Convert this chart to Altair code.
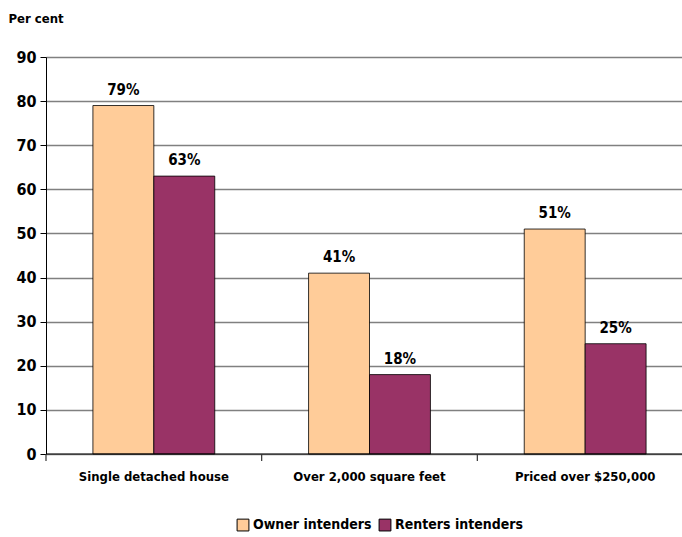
import altair as alt
import pandas as pd

categories = ["Single detached house", "Over 2,000 square feet", "Priced over $250,000"]
series = ["Owner intenders", "Renters intenders"]
owner = [79, 41, 51]
renter = [63, 18, 25]
y_ticks = [0, 10, 20, 30, 40, 50, 60, 70, 80, 90]
colors = ["#FFCC99", "#993366"]

rows = []
for c, o, r in zip(categories, owner, renter):
    rows.append({"cat": c, "series": series[0], "value": o, "label": f"{o}%"})
    rows.append({"cat": c, "series": series[1], "value": r, "label": f"{r}%"})
df = pd.DataFrame(rows)
cat_df = pd.DataFrame({"cat": categories, "y0": [0, 0, 0], "y1": [-1.6, -1.6, -1.6]})

FONT = "DejaVu Sans Condensed, Liberation Sans, sans-serif"
PAD_INNER = 0.435
XSCALE = alt.Scale(domain=categories, range=[0, 647], paddingInner=PAD_INNER, paddingOuter=PAD_INNER / 2)
YSCALE = alt.Scale(domain=[0, 90], nice=False)

x = alt.X("cat:N", sort=categories, title=None, scale=XSCALE,
          axis=alt.Axis(labelAngle=0, labelFont=FONT, labelFontSize=13, labelFontWeight="bold",
                        labelColor="black", labelPadding=16, ticks=False, domain=False, grid=False))
y = alt.Y("value:Q", title="Per cent", scale=YSCALE,
          axis=alt.Axis(values=y_ticks, labelFont=FONT, labelFontSize=16, labelFontWeight="bold",
                        labelColor="black", labelPadding=4, tickSize=6, tickColor="black",
                        domainColor="black", grid=True, gridColor="#808080", gridWidth=1.5,
                        titleAngle=0, titleAlign="left", titleBaseline="middle",
                        titleX=-38, titleY=-39, titleFont=FONT, titleFontSize=13,
                        titleFontWeight="bold", titleColor="black"))

bars = alt.Chart(df).mark_bar(stroke="black", strokeWidth=0.8).encode(
    x=x, y=y,
    xOffset=alt.XOffset("series:N", sort=series),
    color=alt.Color("series:N", sort=series,
                    scale=alt.Scale(domain=series, range=colors),
                    legend=alt.Legend(title=None, orient="none", legendX=190, legendY=461,
                                      direction="horizontal", symbolType="square",
                                      symbolSize=140, symbolStrokeColor="black",
                                      symbolStrokeWidth=1, labelFont=FONT, labelFontSize=14,
                                      labelFontWeight="bold", labelColor="black",
                                      columnPadding=5, labelOffset=3)),
)

text = alt.Chart(df).mark_text(baseline="bottom", dy=-8, font=FONT, fontSize=15,
                               fontWeight="bold", color="black").encode(
    x=alt.X("cat:N", sort=categories),
    y="value:Q",
    xOffset=alt.XOffset("series:N", sort=series),
    text="label:N",
)

zero = alt.Chart(pd.DataFrame({"v": [0]})).mark_rule(color="black", strokeWidth=1.2).encode(
    y="v:Q", x=alt.value(0), x2=alt.value(700))

main = alt.layer(bars, zero, text)

ticks = alt.Chart(cat_df).mark_rule(color="#333", strokeWidth=1.2).encode(
    x=alt.X("cat:N", sort=categories, bandPosition=0, axis=None,
            scale=alt.Scale(domain=categories, range=[0, 647], paddingInner=0, paddingOuter=0)),
    y=alt.Y("y0:Q", scale=YSCALE), y2="y1:Q")

chart = alt.layer(main, ticks).resolve_scale(x="independent").properties(
    width=636, height=397,
    autosize=alt.AutoSizeParams(type="none"),
    padding={"left": 46, "top": 57, "right": 0, "bottom": 83},
).configure_view(stroke=None).configure(background="white")

chart.save("out.html", embed_options={"renderer": "svg", "actions": False})
